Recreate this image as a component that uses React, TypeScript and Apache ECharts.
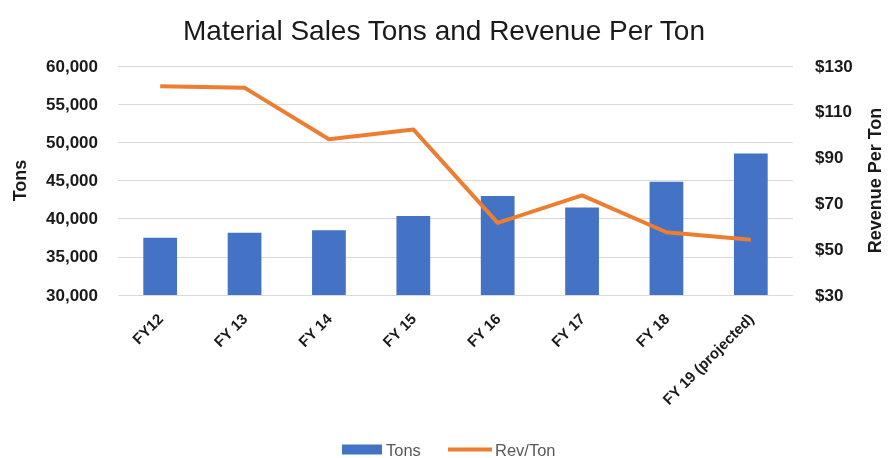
import React, { useEffect, useRef } from "react";
import * as echarts from "echarts";

const categories = ["FY12", "FY 13", "FY 14", "FY 15", "FY 16", "FY 17", "FY 18", "FY 19 (projected)"];
const tons = [37500, 38150, 38470, 40350, 42980, 41450, 44820, 48550];
const revPerTon = [121.2, 120.5, 98, 102.3, 61.5, 73.5, 57.4, 54.1];

export default function App() {
  const ref = useRef<HTMLDivElement>(null);
  useEffect(() => {
    if (!ref.current) return;
    const chart = echarts.init(ref.current, null, { renderer: "svg" });
    const font = "Liberation Sans, Arial, sans-serif";
    const dark = "#1a1a1a";
    chart.setOption({
      animation: false,
      textStyle: { fontFamily: font },
      title: {
        text: "Material Sales Tons and Revenue Per Ton",
        left: "center",
        top: 11,
        textStyle: { fontSize: 28, fontWeight: "normal", color: dark, fontFamily: font },
      },
      legend: [
        {
          data: [{ name: "Tons", icon: "rect" }],
          left: 342,
          top: 441,
          itemWidth: 40,
          itemHeight: 10,
          itemGap: 4,
          padding: 0,
          textStyle: { fontSize: 16.5, color: "#595959", fontFamily: font, padding: [0, 0, 0, -1] },
        },
        {
          data: [{ name: "Rev/Ton", icon: "rect" }],
          left: 448,
          top: 441,
          itemWidth: 44,
          itemHeight: 4,
          padding: 0,
          textStyle: { fontSize: 16.5, color: "#595959", fontFamily: font, padding: [0, 0, 0, -2] },
        },
      ],
      grid: { left: 118, right: 95, top: 66, bottom: 163, containLabel: false, outerBoundsMode: "none" },
      xAxis: {
        type: "category",
        data: categories,
        axisLine: { show: false },
        axisTick: { show: false },
        axisLabel: {
          rotate: 45,
          fontSize: 15,
          fontWeight: "bold",
          color: dark,
          margin: 21,
          interval: 0,
          fontFamily: font,
        },
      },
      yAxis: [
        {
          type: "value",
          min: 30000,
          max: 60000,
          interval: 5000,
          name: "Tons",
          nameLocation: "middle",
          nameRotate: 90,
          nameGap: 89,
          nameTextStyle: { fontSize: 18, fontWeight: "bold", color: dark, fontFamily: font },
          axisLine: { show: false },
          axisTick: { show: false },
          splitLine: { lineStyle: { color: "#d9d9d9", width: 1 } },
          axisLabel: {
            fontSize: 17,
            fontWeight: "bold",
            color: dark,
            margin: 20,
            fontFamily: font,
            formatter: (v: number) => v.toLocaleString("en-US"),
          },
        },
        {
          type: "value",
          min: 30,
          max: 130,
          interval: 20,
          name: "Revenue Per Ton",
          nameLocation: "middle",
          nameRotate: 90,
          nameGap: 73,
          nameTextStyle: { fontSize: 18, fontWeight: "bold", color: dark, fontFamily: font },
          axisLine: { show: false },
          axisTick: { show: false },
          splitLine: { show: false },
          axisLabel: {
            fontSize: 17,
            fontWeight: "bold",
            color: dark,
            margin: 22,
            fontFamily: font,
            formatter: (v: number) => "$" + v,
          },
        },
      ],
      series: [
        {
          name: "Tons",
          type: "bar",
          data: tons,
          yAxisIndex: 0,
          barWidth: "40%",
          itemStyle: { color: "#4472C4" },
        },
        {
          name: "Rev/Ton",
          type: "line",
          data: revPerTon,
          yAxisIndex: 1,
          symbol: "none",
          lineStyle: { color: "#ED7D31", width: 4, join: "round" },
          itemStyle: { color: "#ED7D31" },
        },
      ],
    });
    return () => chart.dispose();
  }, []);
  return (
    <div
      ref={ref}
      style={{ position: "fixed", left: 0, top: 0, width: 888, height: 458 }}
    />
  );
}
